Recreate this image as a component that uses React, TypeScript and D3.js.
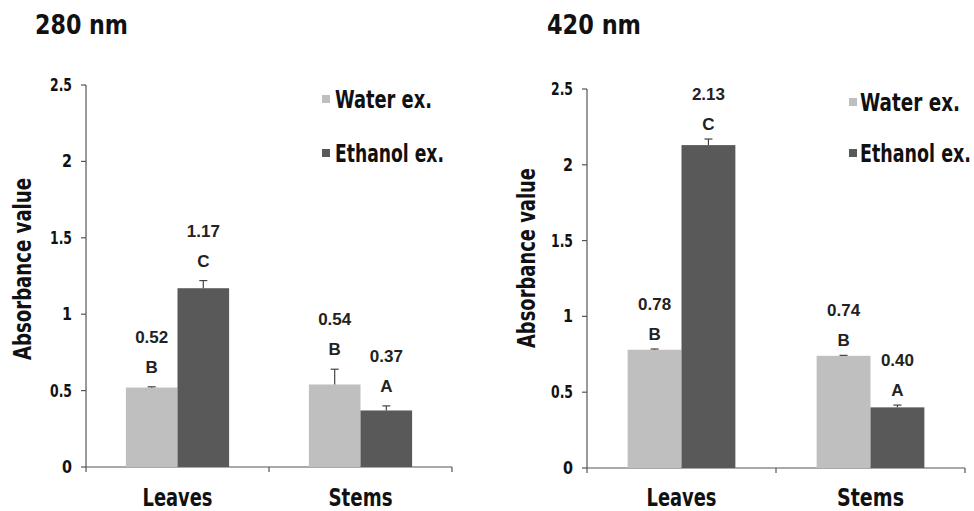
import React from "react";
import * as d3 from "d3";

const categories = ["Leaves", "Stems"];
const seriesNames = ["Water ex.", "Ethanol ex."];
const yTicks = [0, 0.5, 1, 1.5, 2, 2.5];

const water280 = [0.52, 0.54];
const ethanol280 = [1.17, 0.37];
const water280Err = [0.005, 0.1];
const ethanol280Err = [0.05, 0.03];
const water280Letters = ["B", "B"];
const ethanol280Letters = ["C", "A"];

const water420 = [0.78, 0.74];
const ethanol420 = [2.13, 0.4];
const water420Err = [0.005, 0.003];
const ethanol420Err = [0.04, 0.015];
const water420Letters = ["B", "B"];
const ethanol420Letters = ["C", "A"];

const colors = ["#bfbfbf", "#595959"];
const COND = "'Liberation Sans Narrow', 'DejaVu Sans Condensed', 'Arial Narrow', sans-serif";
const PLAIN = "'Liberation Sans', Arial, sans-serif";

type PanelProps = {
  title: string;
  values: number[][];
  errors: number[][];
  letters: string[][];
  x0: number;
  x1: number;
  yTop: number;
  yBottom: number;
  titleX: number;
  titleW: number;
  yTitleX: number;
  yTitleCy: number;
  yTitleW: number;
  legendX: number;
  legendTextX: number;
  legendTextW: number[];
  legendY: number[];
  catW: number[];
  barFrac: number;
  labelGap: number;
};

function Panel(p: PanelProps) {
  const y = d3.scaleLinear().domain([0, 2.5]).range([p.yBottom, p.yTop]);
  const xBand = d3.scaleBand<string>().domain(categories).range([p.x0, p.x1]).padding(0);
  const bw = xBand.bandwidth() * p.barFrac;
  const xInner = d3
    .scaleBand<string>()
    .domain(seriesNames)
    .range([0, bw * 2])
    .padding(0);
  const fmt = d3.format(".2f");
  return (
    <g>
      <text
        x={p.titleX}
        y={34}
        fontFamily={COND}
        fontWeight="bold"
        fontSize={26}
        textLength={p.titleW}
        lengthAdjust="spacingAndGlyphs"
        fill="#111"
      >
        {p.title}
      </text>
      {/* y axis */}
      <line x1={p.x0} x2={p.x0} y1={y(2.5)} y2={y(0)} stroke="#555" strokeWidth={1.2} />
      {yTicks.map((t) => {
        const label = String(t);
        return (
          <g key={t}>
            <line x1={p.x0 - 5} x2={p.x0} y1={y(t)} y2={y(t)} stroke="#555" strokeWidth={1.2} />
            <text
              x={p.x0 - 14}
              y={y(t) + 6}
              textAnchor="end"
              fontFamily={COND}
              fontWeight="bold"
              fontSize={17}
              textLength={label.length > 1 ? 22 : 10}
              lengthAdjust="spacingAndGlyphs"
              fill="#111"
            >
              {label}
            </text>
          </g>
        );
      })}
      <text
        transform={`translate(${p.yTitleX},${p.yTitleCy}) rotate(-90)`}
        textAnchor="middle"
        fontFamily={COND}
        fontWeight="bold"
        fontSize={24}
        textLength={p.yTitleW}
        lengthAdjust="spacingAndGlyphs"
        fill="#111"
      >
        Absorbance value
      </text>
      {/* x axis */}
      <line x1={p.x0} x2={p.x1} y1={y(0)} y2={y(0)} stroke="#555" strokeWidth={1.2} />
      {[p.x0, xBand("Stems") as number, p.x1].map((tx, i) => (
        <line key={i} x1={tx} x2={tx} y1={y(0)} y2={y(0) + 5} stroke="#555" strokeWidth={1.2} />
      ))}
      {categories.map((c, ci) => {
        const cx = (xBand(c) as number) + xBand.bandwidth() / 2;
        const gx = cx - bw;
        return (
          <g key={c}>
            {seriesNames.map((s, si) => {
              const v = p.values[si][ci];
              const e = p.errors[si][ci];
              const bx = gx + (xInner(s) as number);
              const mid = bx + bw / 2;
              const topE = y(v + e);
              return (
                <g key={s}>
                  <rect x={bx} y={y(v)} width={xInner.bandwidth()} height={y(0) - y(v)} fill={colors[si]} />
                  <line x1={mid} x2={mid} y1={y(v)} y2={topE} stroke="#444" strokeWidth={1.2} />
                  <line x1={mid - 4} x2={mid + 4} y1={topE} y2={topE} stroke="#444" strokeWidth={1.2} />
                  <text
                    x={mid}
                    y={topE - p.labelGap + 6}
                    textAnchor="middle"
                    fontFamily={PLAIN}
                    fontWeight="bold"
                    fontSize={17}
                    fill="#222"
                  >
                    {p.letters[si][ci]}
                  </text>
                  <text
                    x={mid}
                    y={topE - p.labelGap - 24}
                    textAnchor="middle"
                    fontFamily={PLAIN}
                    fontWeight="bold"
                    fontSize={17}
                    fill="#222"
                  >
                    {fmt(v)}
                  </text>
                </g>
              );
            })}
            <text
              x={cx}
              y={506}
              textAnchor="middle"
              fontFamily={COND}
              fontWeight="bold"
              fontSize={24}
              textLength={p.catW[ci]}
              lengthAdjust="spacingAndGlyphs"
              fill="#111"
            >
              {c}
            </text>
          </g>
        );
      })}
      {/* legend */}
      {seriesNames.map((s, si) => (
        <g key={s}>
          <rect x={p.legendX} y={p.legendY[si] - 13} width={8} height={8} fill={colors[si]} />
          <text
            transform={`translate(${p.legendTextX},${p.legendY[si]}) scale(1,1.23)`}
            fontFamily={COND}
            fontWeight="bold"
            fontSize={19.5}
            textLength={p.legendTextW[si]}
            lengthAdjust="spacingAndGlyphs"
            fill="#111"
          >
            {s}
          </text>
        </g>
      ))}
    </g>
  );
}

export default function App() {
  return (
    <svg
      width={974}
      height={511}
      style={{ position: "absolute", left: 0, top: 0, background: "#fff" }}
    >
      <rect width={974} height={511} fill="#fff" />
      <Panel
        title="280 nm"
        values={[water280, ethanol280]}
        errors={[water280Err, ethanol280Err]}
        letters={[water280Letters, ethanol280Letters]}
        x0={86}
        x1={452}
        yTop={85}
        yBottom={467}
        titleX={35}
        titleW={93}
        yTitleX={31}
        yTitleCy={269}
        yTitleW={182}
        legendX={322}
        legendTextX={335}
        legendTextW={[97, 109]}
        legendY={[108, 162]}
        catW={[70, 64]}
        barFrac={0.282}
        labelGap={20}
      />
      <Panel
        title="420 nm"
        values={[water420, ethanol420]}
        errors={[water420Err, ethanol420Err]}
        letters={[water420Letters, ethanol420Letters]}
        x0={587}
        x1={965}
        yTop={89}
        yBottom={468}
        titleX={547}
        titleW={94}
        yTitleX={535}
        yTitleCy={258}
        yTitleW={180}
        legendX={849}
        legendTextX={860}
        legendTextW={[100, 111]}
        legendY={[111, 162]}
        catW={[70, 67]}
        barFrac={0.285}
        labelGap={15}
      />
    </svg>
  );
}
